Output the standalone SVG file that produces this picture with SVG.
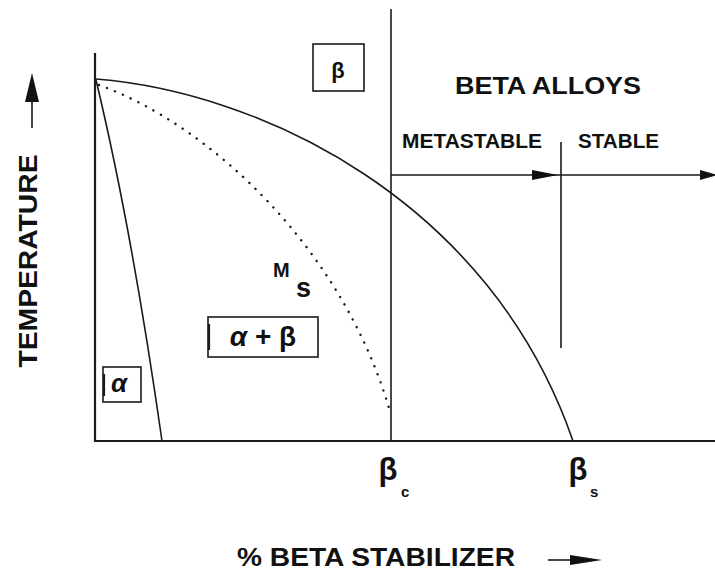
<svg xmlns="http://www.w3.org/2000/svg" width="715" height="572" viewBox="0 0 715 572">
<style>
  .ax { stroke: #1a1a1a; stroke-width: 2.2; fill: none; }
  .ln { stroke: #1a1a1a; stroke-width: 1.6; fill: none; }
  .dot { stroke: #1a1a1a; stroke-width: 2.4; fill: none; stroke-dasharray: 0.1 8.5; stroke-linecap: round; }
  .box { stroke: #1a1a1a; stroke-width: 1.6; fill: none; }
  .ah { fill: #111; stroke: none; }
  text { font-family: "Liberation Sans", Arial, Helvetica, sans-serif; font-weight: bold; fill: #111; }
  .gr { font-family: "Liberation Sans", "DejaVu Sans", sans-serif; font-weight: bold; }
</style>
<rect width="715" height="572" fill="#fff"/>
<g id="connectors">
  <!-- axes -->
  <path class="ax" d="M95,53 V441 H715"/>
  <!-- beta_c vertical -->
  <path class="ln" d="M391,9 V441"/>
  <!-- alpha boundary -->
  <path class="ln" d="M96,80 Q132,230 162,441"/>
  <!-- beta transus / solvus -->
  <path class="ln" d="M96,79 C260,92 490,200 573,441"/>
  <!-- Ms dotted -->
  <path class="dot" d="M99,85 C210,125 345,250 391,415"/>
  <!-- beta alloys arrow -->
  <path class="ln" d="M391,175 H705"/>
  <polygon class="ah" points="558,175 532,170 532,180"/>
  <polygon class="ah" points="718,175 700,170 700,180"/>
  <!-- stable divider -->
  <path class="ln" d="M561,142 V348"/>
  <!-- temperature arrow -->
  <path class="ln" d="M32,128 V95"/>
  <polygon class="ah" points="32,73 25,102 39,102"/>
  <!-- composition arrow -->
  <path class="ln" d="M548,560 H575"/>
  <polygon class="ah" points="602,560 570,555 570,565"/>
</g>
<g id="label-temperature">
  <text transform="translate(37,261) rotate(-90)" text-anchor="middle" font-size="26" textLength="213" lengthAdjust="spacingAndGlyphs">TEMPERATURE</text>
</g>
<g id="label-xaxis">
  <text x="237" y="566" font-size="25" textLength="278" lengthAdjust="spacingAndGlyphs">% BETA STABILIZER</text>
</g>
<g id="node-beta">
  <rect class="box" x="313" y="44" width="51" height="47"/>
  <text class="gr" x="338" y="78" text-anchor="middle" font-size="22">β</text>
</g>
<g id="label-beta-alloys">
  <text x="455" y="94" font-size="24" textLength="186" lengthAdjust="spacingAndGlyphs">BETA ALLOYS</text>
</g>
<g id="label-metastable">
  <text x="402" y="148" font-size="20" textLength="140" lengthAdjust="spacingAndGlyphs">METASTABLE</text>
</g>
<g id="label-stable">
  <text x="578" y="148" font-size="20" textLength="81" lengthAdjust="spacingAndGlyphs">STABLE</text>
</g>
<g id="label-ms">
  <text x="273" y="277" font-size="20">M</text>
  <text x="296" y="297" font-size="27">s</text>
</g>
<g id="node-alpha-beta">
  <rect class="box" x="208" y="317" width="110" height="40"/>
  <path class="ax" d="M209,324 V350"/>
  <text class="gr" x="263" y="346" text-anchor="middle" font-size="28"><tspan font-style="italic">α</tspan> + β</text>
</g>
<g id="node-alpha">
  <rect class="box" x="103" y="367" width="38" height="35"/>
  <path class="ax" d="M104,374 V396"/>
  <text class="gr" x="119" y="392" text-anchor="middle" font-size="26" font-style="italic">α</text>
</g>
<g id="label-beta-c">
  <text class="gr" x="388" y="480" text-anchor="middle" font-size="31">β</text>
  <text x="401" y="497" font-size="15">c</text>
</g>
<g id="label-beta-s">
  <text class="gr" x="578" y="480" text-anchor="middle" font-size="31">β</text>
  <text x="590" y="497" font-size="15">s</text>
</g>
</svg>
